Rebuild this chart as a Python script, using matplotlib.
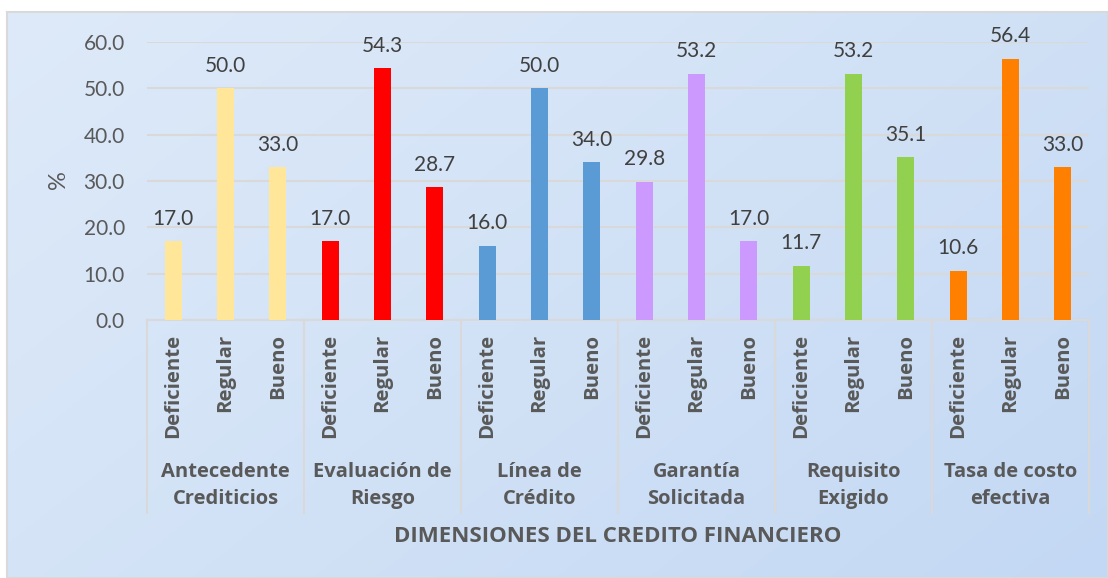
import numpy as np
import matplotlib
matplotlib.use("Agg")
import matplotlib.pyplot as plt
from matplotlib.colors import LinearSegmentedColormap
import matplotlib.transforms as mtransforms

# -------------------------------------------------------------
# Data
# -------------------------------------------------------------
dimensions = ["Antecedente\nCrediticios", "Evaluación de\nRiesgo", "Línea de\nCrédito",
              "Garantía\nSolicitada", "Requisito\nExigido", "Tasa de costo\nefectiva"]
levels = ["Deficiente", "Regular", "Bueno"]
values = [
    [17.0, 50.0, 33.0],
    [17.0, 54.3, 28.7],
    [16.0, 50.0, 34.0],
    [29.8, 53.2, 17.0],
    [11.7, 53.2, 35.1],
    [10.6, 56.4, 33.0],
]
colors = ["#FFE699", "#FF0000", "#5B9BD5", "#CC99FF", "#92D050", "#FF8000"]
yticks = [0, 10, 20, 30, 40, 50, 60]

FONT = "Lato"
BFONT = "Open Sans"
TXT = "#595959"

W, H = 1108, 578
fig = plt.figure(figsize=(W / 100, H / 100), dpi=100)
fig.patch.set_facecolor("white")

# -------------------------------------------------------------
# Background gradient
# -------------------------------------------------------------
bg = fig.add_axes([7 / W, 0, 1 - 7 / W, 1 - 12 / H], zorder=-5)
cmap = LinearSegmentedColormap.from_list("bg", ["#DEEAF9", "#D2E2F6", "#C3D8F4"])
gx, gy = np.meshgrid(np.linspace(0, 1, 300), np.linspace(0, 1, 300))
bg.imshow(0.6 * gx + 0.4 * gy, cmap=cmap, aspect="auto", extent=[0, 1, 1, 0])
bg.set_xticks([])
bg.set_yticks([])
for s in bg.spines.values():
    s.set_color("#D9D9D9")
    s.set_linewidth(1.5)

# -------------------------------------------------------------
# Main axes
# -------------------------------------------------------------
left, right, top, bottom = 147, 1089, 42, 320
ax = fig.add_axes([left / W, 1 - bottom / H, (right - left) / W, (bottom - top) / H])
ax.patch.set_alpha(0)

n = len(dimensions) * len(levels)
x = np.arange(n)
for g, (vals, col) in enumerate(zip(values, colors)):
    xs = x[g * 3:(g + 1) * 3]
    ax.bar(xs, vals, width=0.32, color=col, zorder=3)
    for xi, v in zip(xs, vals):
        ax.annotate(f"{v:.1f}", (xi, v), xytext=(0, 9), textcoords="offset points",
                    ha="center", va="bottom", fontsize=15, color="#404040", family=FONT)

ax.set_xlim(-0.5, n - 0.5)
ax.set_ylim(0, 60)
ax.set_yticks(yticks)
ax.set_yticklabels([f"{t:.1f}" for t in yticks], fontsize=15, color=TXT, family=FONT)
ax.tick_params(axis="y", length=0, pad=16)
ax.set_xticks([])
ax.grid(axis="y", color="#D9D9D9", linewidth=1.5, zorder=0)
for s in ["top", "right", "left"]:
    ax.spines[s].set_visible(False)
ax.spines["bottom"].set_color("#D9D9D9")
ax.spines["bottom"].set_linewidth(1.5)

# category labels
for i in range(n):
    ax.annotate(levels[i % 3], (x[i], 0), xycoords=("data", "axes fraction"),
                xytext=(0, -10), textcoords="offset points", rotation=90,
                ha="center", va="top", fontsize=14.7, fontweight="bold", color=TXT, family=BFONT)

# group labels and separators
trans = mtransforms.blended_transform_factory(ax.transData, ax.transAxes)
sep_bottom = -(513 - bottom) / (bottom - top)
for g, name in enumerate(dimensions):
    ax.annotate(name, (g * 3 + 1, 0), xycoords=("data", "axes fraction"),
                xytext=(0, -119), textcoords="offset points", ha="center", va="center",
                fontsize=14.5, fontweight="bold", color=TXT, family=BFONT, linespacing=1.5)
for k in range(len(dimensions) + 1):
    ax.plot([k * 3 - 0.5] * 2, [0, sep_bottom], transform=trans, color="#D9D9D9",
            linewidth=1.5, clip_on=False)

ax.annotate("DIMENSIONES DEL CREDITO FINANCIERO", (0.5, 0), xycoords="axes fraction",
            xytext=(0, -156), textcoords="offset points", ha="center", va="center",
            fontsize=16, fontweight="bold", color=TXT, family=BFONT)

fig.text(58 / W, 1 - 180 / H, "%", rotation=90, ha="center", va="center",
         fontsize=17, color=TXT, family=FONT)

fig.savefig("out.png", dpi=100)
